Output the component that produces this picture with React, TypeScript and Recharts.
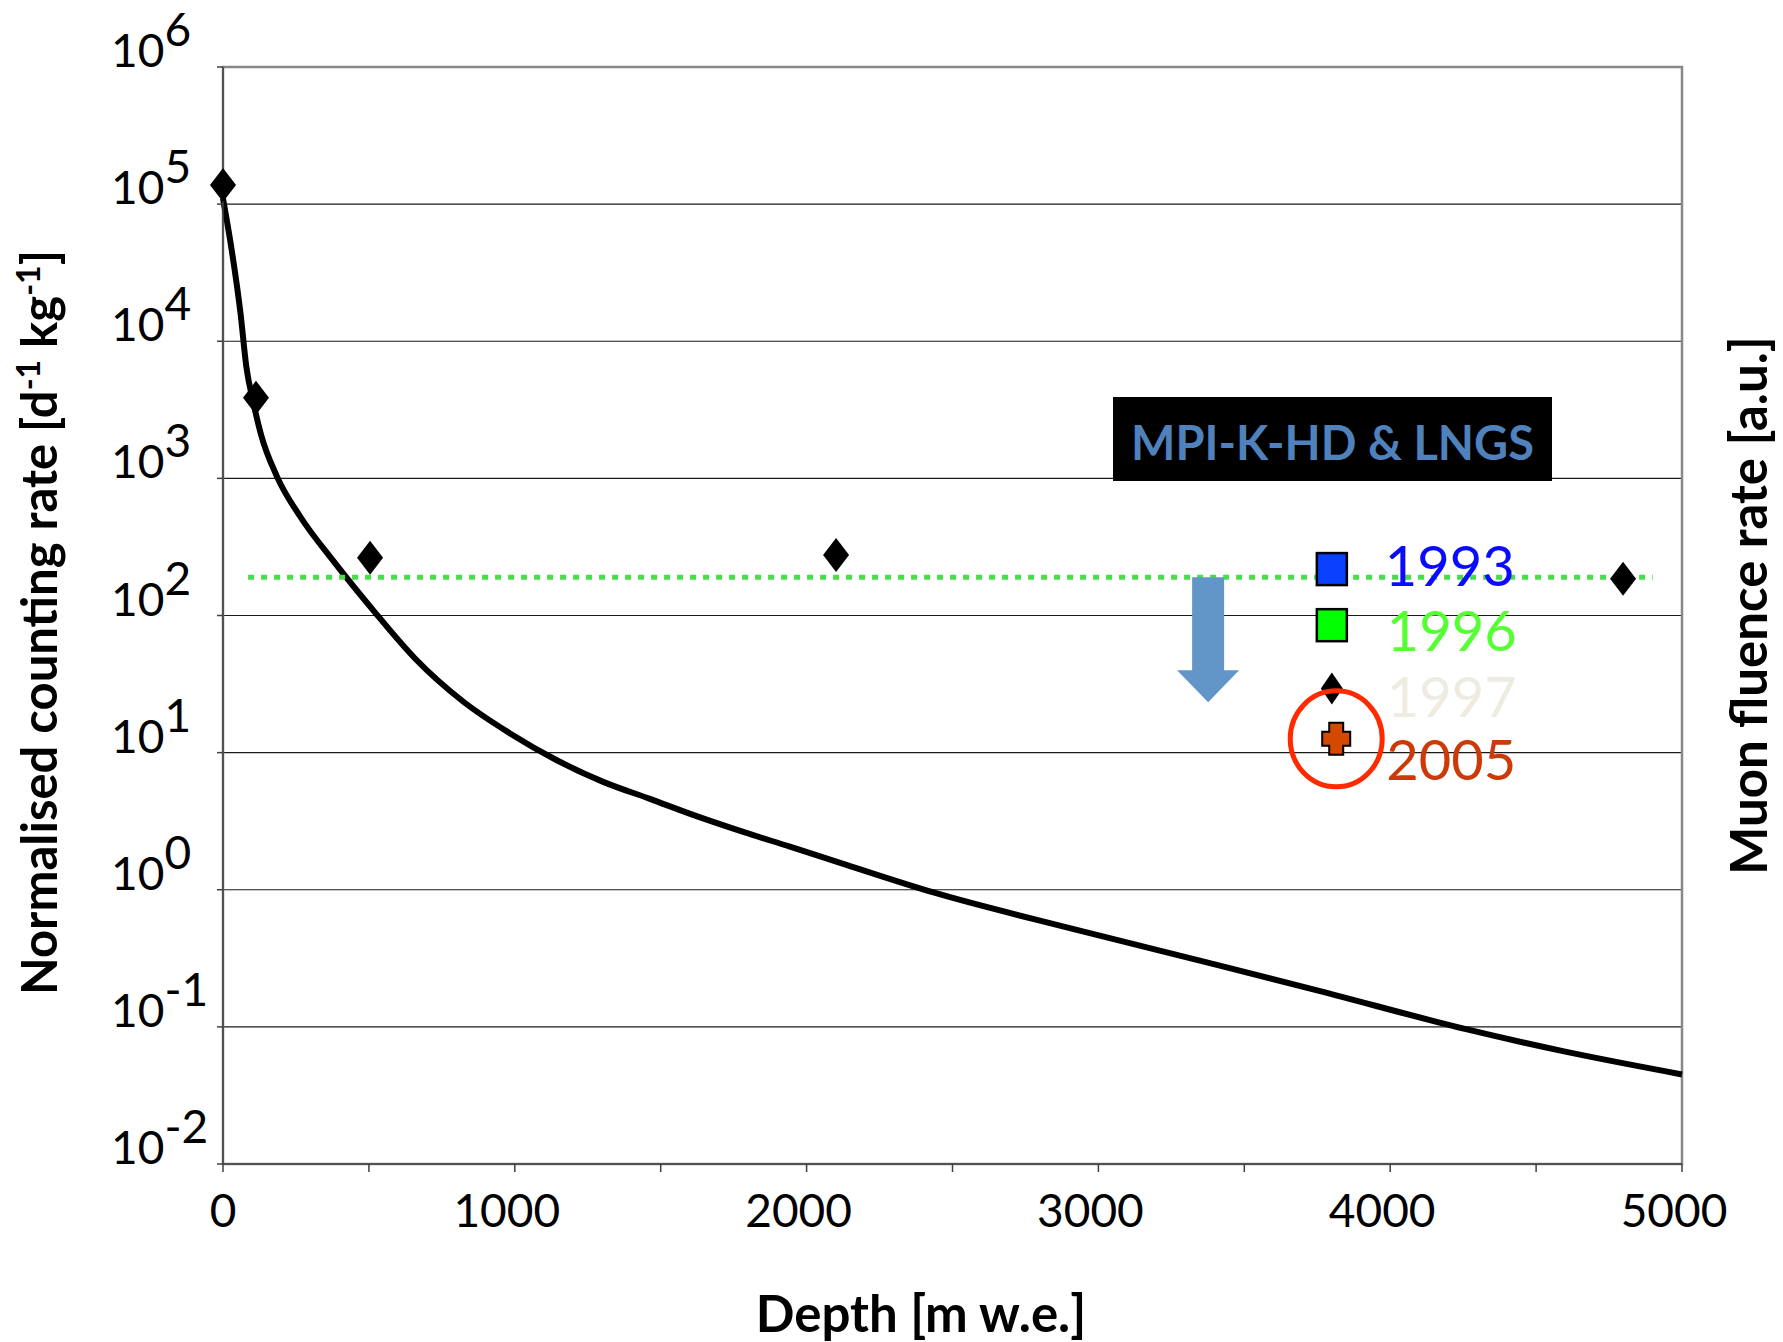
import React from "react";
import {
  ComposedChart,
  Line,
  Scatter,
  XAxis,
  YAxis,
  CartesianGrid,
  ReferenceArea,
  Label,
} from "recharts";

const FONT = "Lato, 'Open Sans', sans-serif";
const W = 1767;
const H = 1334;

// axis ticks
const depthTicks = [0, 500, 1000, 1500, 2000, 2500, 3000, 3500, 4000, 4500, 5000];
const rateTicks = [1e-2, 1e-1, 1, 10, 100, 1e3, 1e4, 1e5, 1e6];

// muon fluence curve (smoothed fit)
const curveDepth = [0, 30, 60, 80, 105, 130, 185, 265, 380, 515, 658, 824, 984, 1144, 1303, 1463, 1623, 1783, 1943, 2115, 2435, 2912, 3416, 3753, 4256, 4592, 5000];
const curveRate = [1.1e5, 46000, 16000, 6500, 3500, 2100, 1030, 525, 247, 109, 48.6, 23.5, 13.8, 8.8, 6.12, 4.6, 3.44, 2.64, 2.06, 1.57, 0.955, 0.518, 0.28, 0.184, 0.0966, 0.0665, 0.045];

// measured counting rates (black diamonds)
const siteDepth = [0, 113, 504, 2101, 4798];
const siteRate = [1.38e5, 3870, 264, 276, 185];

// green dotted reference level
const levelDepth = [86, 4900];
const levelRate = [190, 190];

// LNGS measurements by year
const lngsYears = ["1993", "1996", "1997", "2005"];
const lngsDepth = [3800, 3800, 3800, 3815];
const lngsRate = [218, 85, 29.3, 12.6];

// blue arrow start
const arrowDepth = [3376];
const arrowRate = [190];

const curve = curveDepth.map((x, i) => ({ x, y: curveRate[i] }));
const sites = siteDepth.map((x, i) => ({ x, y: siteRate[i] }));
const level = levelDepth.map((x, i) => ({ x, y: levelRate[i] }));
const lngs = lngsYears.map((year, i) => ({ x: lngsDepth[i], y: lngsRate[i], year }));
const arrow = arrowDepth.map((x, i) => ({ x, y: arrowRate[i] }));

const XTick = ({ x, y, payload }: any) => {
  if (payload.value % 1000 !== 0) return null;
  return (
    <text
      x={payload.value === 0 ? x : x - 8}
      y={y + 55}
      textAnchor="middle"
      fontSize={46}
      fill="#000"
      fontFamily={FONT}
    >
      {payload.value}
    </text>
  );
};

const YTick = ({ x, y, payload }: any) => {
  const exp = Math.round(Math.log10(payload.value));
  return (
    <text x={x - 106} y={y} textAnchor="start" fontSize={46} fill="#000" fontFamily={FONT}>
      10<tspan dy={-21}>{exp}</tspan>
    </text>
  );
};

const LeftTitle = ({ viewBox }: any) => {
  const cx = viewBox.x + 32;
  const cy = viewBox.y + viewBox.height / 2 + 7;
  return (
    <text
      transform={`rotate(-90, ${cx}, ${cy})`}
      x={cx}
      y={cy + 17}
      textAnchor="middle"
      fontSize={49}
      fontWeight={700}
      fontFamily={FONT}
      fill="#000"
    >
      Normalised counting rate [d<tspan dy={-17} fontSize={32}>-1</tspan>
      <tspan dy={17}> kg</tspan>
      <tspan dy={-17} fontSize={32}>-1</tspan>
      <tspan dy={17}>]</tspan>
    </text>
  );
};

const RightTitle = ({ viewBox }: any) => {
  const cx = viewBox.x + 68;
  const cy = viewBox.y + viewBox.height / 2 - 10;
  return (
    <text
      transform={`rotate(-90, ${cx}, ${cy})`}
      x={cx}
      y={cy + 17}
      textAnchor="middle"
      fontSize={51}
      fontWeight={700}
      fontFamily={FONT}
      fill="#000"
    >
      Muon fluence rate [a.u.]
    </text>
  );
};

const XTitle = ({ viewBox }: any) => (
  <text
    x={viewBox.x + 698}
    y={viewBox.y + 168}
    textAnchor="middle"
    fontSize={51}
    fontWeight={700}
    fontFamily={FONT}
    fill="#000"
  >
    Depth [m w.e.]
  </text>
);

const Diamond = ({ cx, cy }: any) => (
  <polygon
    points={`${cx},${cy - 17} ${cx + 13},${cy} ${cx},${cy + 17} ${cx - 13},${cy}`}
    fill="#000"
  />
);

const yearColors: Record<string, string> = {
  "1993": "#0a0aff",
  "1996": "#55ff33",
  "1997": "#eeece1",
  "2005": "#cc3a0a",
};

const YearMark = ({ cx, cy, payload }: any) => {
  const year = payload.year;
  let mark: React.ReactNode = null;
  let dx = 53;
  let dy = 0;
  if (year === "1993" || year === "1996") {
    mark = (
      <rect
        x={cx - 15}
        y={cy - 16}
        width={30}
        height={32}
        fill={year === "1993" ? "#0a40ff" : "#00ff00"}
        stroke="#000"
        strokeWidth={2.5}
      />
    );
    dx = year === "1993" ? 53 : 55;
    dy = year === "1993" ? -3 : 6;
  } else if (year === "1997") {
    mark = (
      <polygon points={`${cx},${cy - 16} ${cx + 11},${cy} ${cx},${cy + 16} ${cx - 11},${cy}`} fill="#000" />
    );
    dx = 55;
    dy = 8;
  } else {
    const a = 7;
    const w = 14;
    const h = 16;
    mark = (
      <g>
        <path
          d={`M${cx - a},${cy - h} H${cx + a} V${cy - a} H${cx + w} V${cy + a} H${cx + a} V${cy + h} H${cx - a} V${cy + a} H${cx - w} V${cy - a} H${cx - a} Z`}
          fill="#d54800"
          stroke="#000"
          strokeWidth={2}
        />
        <ellipse cx={cx} cy={cy} rx={46} ry={48} fill="none" stroke="#ff2a00" strokeWidth={5} />
      </g>
    );
    dx = 50;
    dy = 21;
  }
  return (
    <g>
      {mark}
      <text x={cx + dx} y={cy + dy + 20} fontSize={56} fill={yearColors[year]} fontFamily={FONT}>
        {year}
      </text>
    </g>
  );
};

const Arrow = ({ cx, cy }: any) => (
  <polygon
    points={`${cx - 16},${cy} ${cx + 16},${cy} ${cx + 16},${cy + 93} ${cx + 31},${cy + 93} ${cx},${cy + 125} ${cx - 31},${cy + 93} ${cx - 16},${cy + 93}`}
    fill="#6396c8"
  />
);

export default function App() {
  return (
    <div style={{ position: "relative", width: W, height: H, fontFamily: FONT, background: "#fff" }}>
      <style>{".recharts-surface { overflow: visible; }"}</style>
      <ComposedChart width={W} height={H} margin={{ top: 59, right: 0, bottom: 0, left: 0 }}>
        <CartesianGrid vertical={false} stroke="#1a1a1a" strokeWidth={1.2} />
        <ReferenceArea x1={0} x2={5000} y1={0.01} y2={1e6} fill="none" stroke="#888" strokeWidth={2.5} />
        <XAxis
          type="number"
          dataKey="x"
          domain={[0, 5000]}
          ticks={depthTicks}
          interval={0}
          height={178}
          tick={<XTick />}
          tickSize={8}
          tickMargin={0}
          tickLine={{ stroke: "#404040", strokeWidth: 1.5 }}
          axisLine={{ stroke: "#404040", strokeWidth: 1.5 }}
        >
          <Label content={XTitle} />
        </XAxis>
        <YAxis
          type="number"
          dataKey="y"
          scale="log"
          domain={[0.01, 1e6]}
          ticks={rateTicks}
          interval={0}
          width={215}
          tick={<YTick />}
          tickSize={6}
          tickMargin={0}
          tickLine={{ stroke: "#404040", strokeWidth: 1.5 }}
          axisLine={{ stroke: "#404040", strokeWidth: 1.5 }}
        >
          <Label content={LeftTitle} />
        </YAxis>
        <YAxis
          yAxisId="r"
          orientation="right"
          type="number"
          domain={[0, 1]}
          width={93}
          tick={false}
          tickLine={false}
          axisLine={false}
        >
          <Label content={RightTitle} />
        </YAxis>
        <Scatter data={sites} shape={<Diamond />} isAnimationActive={false} />
        <Line
          data={curve}
          dataKey="y"
          type="monotone"
          stroke="#000"
          strokeWidth={6}
          dot={false}
          activeDot={false}
          isAnimationActive={false}
        />
        <Scatter data={arrow} shape={<Arrow />} isAnimationActive={false} />
        <Scatter data={lngs} shape={<YearMark />} isAnimationActive={false} />
        <Line
          data={level}
          dataKey="y"
          stroke="#44e044"
          strokeWidth={5}
          strokeDasharray="6 7"
          dot={false}
          activeDot={false}
          isAnimationActive={false}
        />
      </ComposedChart>
      <div
        style={{
          position: "absolute",
          left: 1105,
          top: 389,
          width: 439,
          height: 84,
          background: "#000",
          color: "#4f81bd",
          fontWeight: 700,
          fontSize: 47,
          lineHeight: "90px",
          textAlign: "center",
          fontFamily: FONT,
        }}
      >
        MPI-K-HD &amp; LNGS
      </div>
    </div>
  );
}
